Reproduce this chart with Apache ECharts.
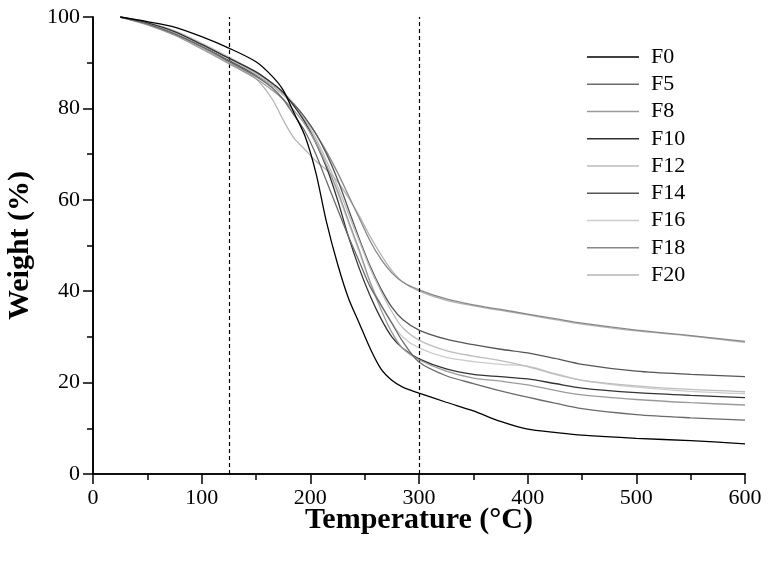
<!DOCTYPE html>
<html>
<head>
<meta charset="utf-8">
<script src="https://cdn.jsdelivr.net/npm/echarts@6/dist/echarts.min.js"></script>
<style>html,body{margin:0;padding:0;background:#fff}#c{width:772px;height:563px}</style>
</head>
<body>
<div id="c"></div>
<script>
const temps = [25,50,75,100,125,150,165,175,185,195,205,215,225,235,245,255,265,275,285,300,325,350,375,400,425,450,500,550,600];
const F0  = [100,99,97.8,95.7,93.2,90.2,87,84,79,74,66,55,46,38.5,33,27.5,23,20.5,19,17.7,15.7,13.8,11.5,9.8,9.1,8.5,7.8,7.3,6.6];
const F5  = [100,98.5,96.3,93.5,90.3,87,84.5,82,78.5,75,70,64,58,52,46.5,41,37,33,29,24.5,21.5,19.8,18.2,16.8,15.5,14.3,13,12.3,11.8];
const F8  = [100,98.3,96,93,89.8,86.5,84,82,79.5,76.5,72.5,67.5,62,55.5,49,42,36,31,27.5,25,22.5,21,20.3,19.5,18.3,17.3,16.3,15.6,15.1];
const F10 = [100,98.7,96.8,94,91,88,85.5,83.5,80.5,77,72.5,67,60,52,45,39,34,30,27.5,25.2,23,21.8,21.3,20.8,19.8,18.8,17.8,17.2,16.7];
const F12 = [100,98.6,96.6,93.8,91,87.5,85,83,80.5,77.5,73.5,68.5,63,57,51,45,40,35.5,32,29.3,27,25.8,24.8,23.5,21.8,20.5,19.3,18.5,18];
const F14 = [100,98.5,96.4,93.6,90.5,87.3,85,83,80.8,78,74.5,70,64.5,58,51.5,45.5,40.5,36.5,33.8,31.5,29.5,28.3,27.3,26.5,25.3,24,22.5,21.8,21.3];
const F16 = [100,98.8,97,94.3,91.3,88,85.5,83.5,81,77.5,73,67.5,61.5,55,48.5,42,37,33,30,27.6,25.5,24.6,24,23.6,22,20.5,19,18.1,17.6];
const F18 = [100,98.6,96.6,93.9,91,87.8,85.5,83.5,81,78,74.5,70.5,66,61,56,51,47,44,42,40.3,38.3,37,36,35,34,33,31.5,30.3,29];
const F20 = [100,98.4,96.2,93.2,90,86.5,82,77.5,73.5,71,68.5,66.5,64,60.5,56.5,52,48,44.5,42,40,38,36.8,35.8,34.8,33.8,32.8,31.3,30.2,28.8];
const seriesNames = ['F0','F5','F8','F10','F12','F14','F16','F18','F20'];
const seriesValues = [F0,F5,F8,F10,F12,F14,F16,F18,F20];
const seriesColors = ['#000000','#6a6a6a','#9a9a9a','#333333','#bdbdbd','#555555','#cccccc','#888888','#b5b5b5'];
const xTicks = {min:0, max:600, interval:100};
const yTicks = {min:0, max:100, interval:20};
const dashedAt = [125, 300];

const FONT = 'Liberation Serif';
const chart = echarts.init(document.getElementById('c'), null, {renderer:'canvas'});
const axisLine = {show:true, lineStyle:{color:'#000', width:1.6}};
const tickStyle = {width:1.5, color:'#000'};
const series = seriesNames.map((n,i)=>({
  name:n, type:'line', symbol:'none', smooth:0.3,
  data: temps.map((t,j)=>[t, seriesValues[i][j]]),
  lineStyle:{color:seriesColors[i], width:1.3},
  itemStyle:{color:seriesColors[i]},
  z: 10 - i,
  markLine: i===0 ? {
    silent:true, symbol:['none','none'], label:{show:false},
    lineStyle:{color:'#000', type:[4,3], width:1.2},
    data: dashedAt.map(v=>({xAxis:v}))
  } : undefined
}));
chart.setOption({
  animation:false,
  backgroundColor:'#fff',
  grid:{left:93, right:27, top:17, bottom:89, containLabel:false, outerBoundsMode:'none'},
  legend:{
    orient:'vertical', left:582, top:41, icon:'rect', itemWidth:52, itemHeight:1.5, itemGap:5.25,
    textStyle:{fontFamily:FONT, fontSize:22, color:'#000', lineHeight:22, padding:[0,0,0,7]},
    data: seriesNames
  },
  xAxis:[{
    type:'value', min:xTicks.min, max:xTicks.max, interval:xTicks.interval, position:'bottom',
    name:'Temperature (°C)', nameLocation:'middle', nameGap:31, nameMoveOverlap:false,
    nameTextStyle:{fontFamily:FONT, fontSize:30, fontWeight:'bold', color:'#000', verticalAlign:'top'},
    axisLine, axisTick:{show:true, inside:false, length:10, lineStyle:tickStyle},
    minorTick:{show:true, splitNumber:2, length:6, lineStyle:tickStyle},
    axisLabel:{fontFamily:FONT, fontSize:22, color:'#000', margin:13},
    splitLine:{show:false}
  },{
    type:'value', min:xTicks.min, max:xTicks.max, interval:xTicks.interval, position:'top',
    axisLine, axisTick:{show:true, inside:true, length:9, lineStyle:tickStyle},
    minorTick:{show:true, splitNumber:2, length:5, lineStyle:tickStyle},
    axisLabel:{show:false}, splitLine:{show:false}
  }],
  yAxis:[{
    type:'value', min:yTicks.min, max:yTicks.max, interval:yTicks.interval, position:'left',
    name:'Weight (%)', nameLocation:'middle', nameGap:58, nameRotate:90, nameMoveOverlap:false,
    nameTextStyle:{fontFamily:FONT, fontSize:30, fontWeight:'bold', color:'#000'},
    axisLine, axisTick:{show:true, inside:false, length:10, lineStyle:tickStyle},
    minorTick:{show:true, splitNumber:2, length:6, lineStyle:tickStyle},
    axisLabel:{fontFamily:FONT, fontSize:22, color:'#000', margin:13},
    splitLine:{show:false}
  },{
    type:'value', min:yTicks.min, max:yTicks.max, interval:yTicks.interval, position:'right',
    axisLine, axisTick:{show:true, inside:true, length:9, lineStyle:tickStyle},
    minorTick:{show:true, splitNumber:2, length:5, lineStyle:tickStyle},
    axisLabel:{show:false}, splitLine:{show:false}
  }],
  series
});
</script>
</body>
</html>
